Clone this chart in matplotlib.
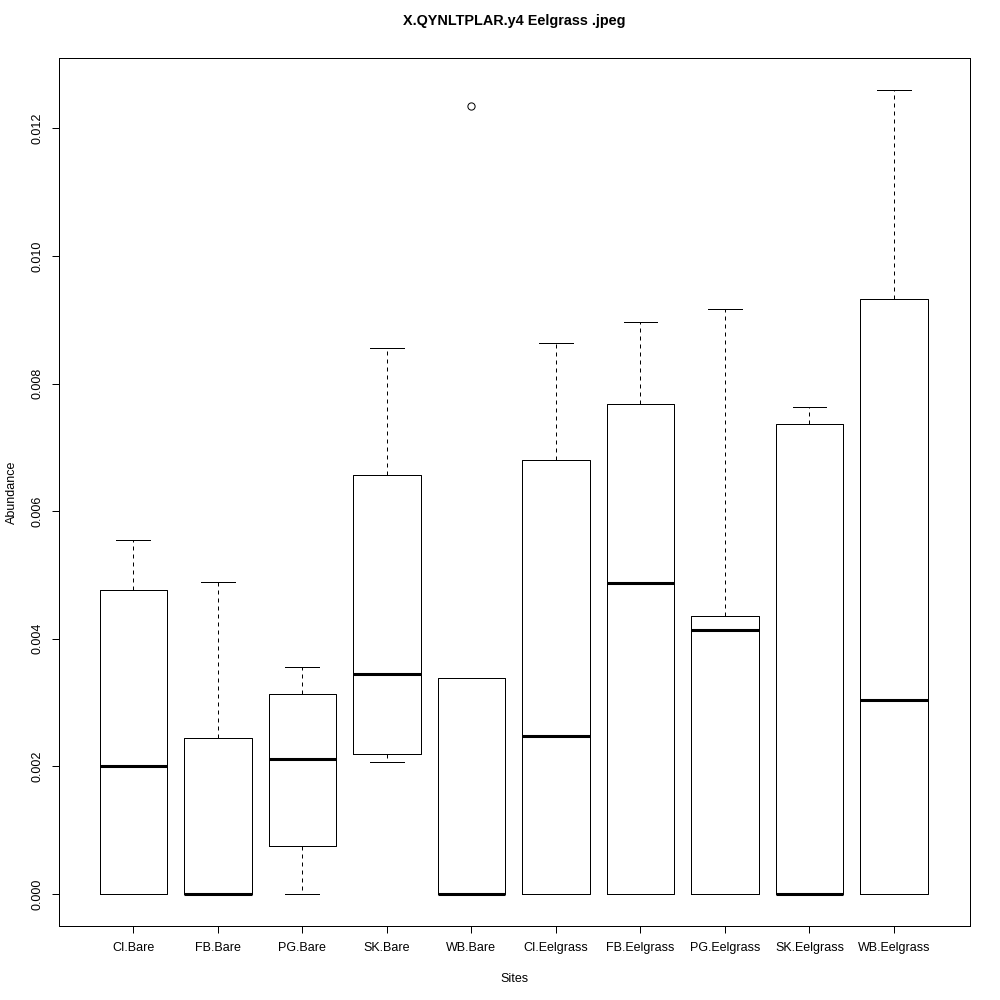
import matplotlib
matplotlib.use("Agg")
import matplotlib.pyplot as plt

plt.rcParams["font.family"] = ["Liberation Sans", "DejaVu Sans"]

sites = ["CI.Bare", "FB.Bare", "PG.Bare", "SK.Bare", "WB.Bare",
         "CI.Eelgrass", "FB.Eelgrass", "PG.Eelgrass", "SK.Eelgrass", "WB.Eelgrass"]

# five-number summaries
whislo = [0.0, 0.0, 0.0, 0.00207, 0.0, 0.0, 0.0, 0.0, 0.0, 0.0]
q1 = [0.0, 0.0, 0.00075, 0.00219, 0.0, 0.0, 0.0, 0.0, 0.0, 0.0]
med = [0.00200, 0.0, 0.00211, 0.00344, 0.0, 0.00248, 0.00488, 0.00413, 0.0, 0.00304]
q3 = [0.00477, 0.00244, 0.00314, 0.00656, 0.00339, 0.00680, 0.00768, 0.00435, 0.00737, 0.00933]
whishi = [0.00554, 0.00489, 0.00355, 0.00856, 0.00339, 0.00863, 0.00896, 0.00917, 0.00764, 0.01260]
outliers = [[], [], [], [], [0.01235], [], [], [], [], []]

stats = []
for i, name in enumerate(sites):
    stats.append(dict(label=name, whislo=whislo[i], q1=q1[i], med=med[i],
                      q3=q3[i], whishi=whishi[i], fliers=outliers[i]))

fig = plt.figure(figsize=(10, 10), dpi=100)
ax = fig.add_axes([0.059, 0.074, 0.911, 0.868])

lw = 0.72
ax.bxp(stats, positions=range(1, len(sites) + 1), widths=0.8, capwidths=0.4,
       boxprops=dict(color="black", linewidth=lw),
       medianprops=dict(color="black", linewidth=2.2, solid_capstyle="butt"),
       whiskerprops=dict(color="black", linewidth=lw, linestyle=(0, (4, 4))),
       capprops=dict(color="black", linewidth=lw),
       flierprops=dict(marker="o", markerfacecolor="none", markeredgecolor="black",
                       markersize=5.2, markeredgewidth=lw))

ax.set_xlim(0.12, 10.9)
ax.set_ylim(-0.000504, 0.013104)
ax.set_yticks([0.000, 0.002, 0.004, 0.006, 0.008, 0.010, 0.012])
ax.set_yticklabels(["0.000", "0.002", "0.004", "0.006", "0.008", "0.010", "0.012"],
                   rotation=90, va="center")
ax.set_xticks(range(1, len(sites) + 1))
ax.set_xticklabels(sites)
ax.tick_params(direction="out", length=5.2, width=lw, labelsize=9, pad=6)
for s in ax.spines.values():
    s.set_linewidth(lw)

ax.set_xlabel("Sites", fontsize=9, labelpad=14)
ax.set_ylabel("Abundance", fontsize=9, labelpad=10)
ax.set_title("X.QYNLTPLAR.y4 Eelgrass .jpeg", fontsize=10.4, fontweight="bold", pad=24)

fig.savefig("out.png", dpi=100)
